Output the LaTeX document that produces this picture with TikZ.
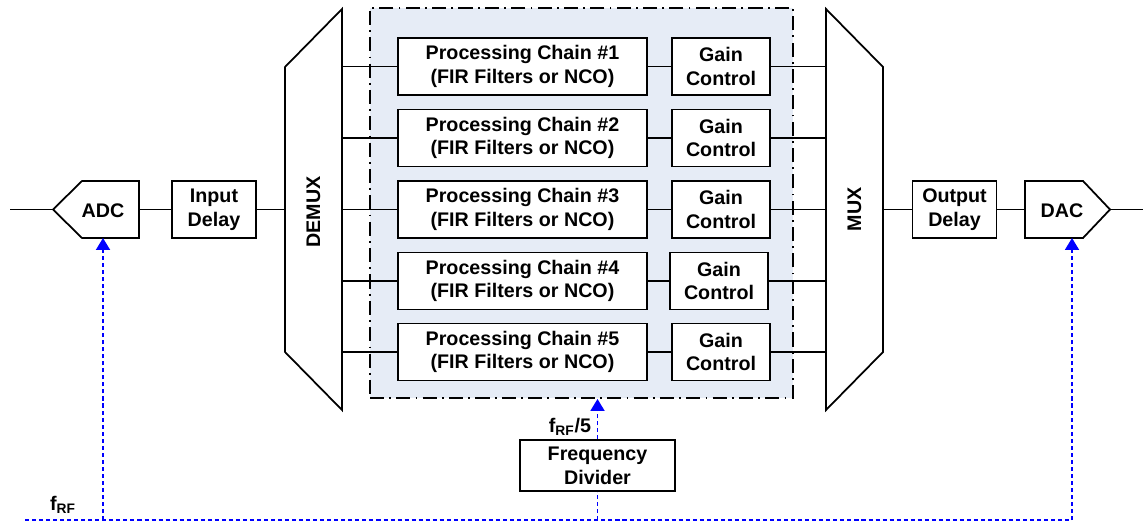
\documentclass[tikz,border=0pt]{standalone}
\usepackage{fontspec}
\setmainfont{Liberation Sans}
\usetikzlibrary{arrows.meta}
\definecolor{chainbg}{RGB}{230,236,246}
\newcommand{\frf}{f\textsubscript{RF}}

\begin{document}
\begin{tikzpicture}[x={(0.2mm, 0mm)}, y={(0mm, -0.2mm)}, line width=1pt]
  \tikzstyle{lbl}=[font=\fontsize{11.2}{13.5}\selectfont\bfseries, align=center, inner sep=0pt]
  \tikzstyle{block}=[lbl, draw, fill=white, minimum height=11.4mm]
  \tikzstyle{clk}=[blue, line width=1.1pt, dash pattern=on 2.3pt off 1.7pt]
  \tikzstyle{clkarrow}=[clk, -{Triangle[length=2.4mm, width=2.8mm]}]

\useasboundingbox (0, 0) rectangle (1145, 525);

\node[draw, fill=chainbg, line width=1.1pt, dash pattern=on 8pt off 3pt on 1pt off 3pt,
  minimum width=84.6mm, minimum height=78mm] (pbox) at (581.5, 203) {};

\coordinate (sigin) at (10, 209.5);
\coordinate (adcw) at (53, 209.5);
\coordinate (adce) at (139, 209.5);
\draw (adcw) -- (82, 181) -- (139, 181) -- (139, 238) -- (82, 238) -- cycle;
\node[lbl] (adc) at (103, 211) {ADC};
\draw (sigin) -- (adcw);

\node[block, minimum width=16.8mm] (ind) at (214, 209.5) {Input\\Delay};
\draw (adce) -- (ind);

\draw (285, 67) -- (342, 9) -- (342, 410) -- (285, 352) -- cycle;
\node[lbl, rotate=90] (dmx) at (313.5, 212) {DEMUX};
\coordinate (dmxi) at (285, 209.5);
\coordinate (dmxo) at (342, 209.5);
\draw (ind) -- (ind -| dmxi);

\draw (826, 9) -- (883, 67) -- (883, 352) -- (826, 410) -- cycle;
\node[lbl, rotate=90] (mx) at (854.5, 209.5) {MUX};
\coordinate (muxi) at (826, 209.5);
\coordinate (muxo) at (883, 209.5);

\node[block, minimum width=49.8mm] (ch1) at (522.5, 66.5) {Processing Chain \#1\\(FIR Filters or NCO)};
\node[block, minimum width=19.6mm] (g1) at (721, 66.5) {Gain\\Control};
\draw (ch1.west -| dmxo) -- (ch1);
\draw (ch1) -- (g1);
\draw (g1) -- (g1 -| muxi);

\node[block, minimum width=49.8mm] (ch2) at (522.5, 138) {Processing Chain \#2\\(FIR Filters or NCO)};
\node[block, minimum width=19.6mm] (g2) at (721, 138) {Gain\\Control};
\draw (ch2.west -| dmxo) -- (ch2);
\draw (ch2) -- (g2);
\draw (g2) -- (g2 -| muxi);

\node[block, minimum width=49.8mm] (ch3) at (522.5, 209.5) {Processing Chain \#3\\(FIR Filters or NCO)};
\node[block, minimum width=19.6mm] (g3) at (721, 209.5) {Gain\\Control};
\draw (ch3.west -| dmxo) -- (ch3);
\draw (ch3) -- (g3);
\draw (g3) -- (g3 -| muxi);

\node[block, minimum width=49.8mm] (ch4) at (522.5, 281) {Processing Chain \#4\\(FIR Filters or NCO)};
\node[block, minimum width=19.6mm] (g4) at (719, 281) {Gain\\Control};
\draw (ch4.west -| dmxo) -- (ch4);
\draw (ch4) -- (g4);
\draw (g4) -- (g4 -| muxi);

\node[block, minimum width=49.8mm] (ch5) at (522.5, 352) {Processing Chain \#5\\(FIR Filters or NCO)};
\node[block, minimum width=19.6mm] (g5) at (721, 352) {Gain\\Control};
\draw (ch5.west -| dmxo) -- (ch5);
\draw (ch5) -- (g5);
\draw (g5) -- (g5 -| muxi);

\node[block, minimum width=16.8mm] (outd) at (954.5, 209.5) {Output\\Delay};
\draw (muxo) -- (outd);

\coordinate (dacw) at (1025, 209.5);
\coordinate (dace) at (1110, 209.5);
\coordinate (sigout) at (1143, 209.5);
\draw (dacw) -- (1025, 181) -- (1083, 181) -- (dace) -- (1083, 238) -- (1025, 238) -- cycle;
\node[lbl] (dac) at (1062, 211) {DAC};
\draw (outd) -- (dacw);
\draw (dace) -- (sigout);

\node[block, minimum width=31mm, minimum height=10.2mm] (div) at (597.5, 465.5) {Frequency\\Divider};
\node[lbl, anchor=east] (ldiv) at (592, 427) {\frf/5};

\coordinate (rfw) at (25, 520);
\coordinate (rfe) at (1072, 520);
\coordinate (adcrf) at (103, 520);
\coordinate (adcs) at (103, 238);
\coordinate (dacs) at (1072, 238);
\node[lbl] (lrf) at (63, 505) {\frf};
\draw[clk] (rfw) -- (rfe);
\draw[clkarrow] (adcrf) -- (adcs);
\draw[clkarrow] (rfe) -- (dacs);
\draw[clk] (div.south |- rfw) -- (div.south);
\draw[clkarrow] (div.north) -- (div.north |- pbox.south);

\end{tikzpicture}
\end{document}
